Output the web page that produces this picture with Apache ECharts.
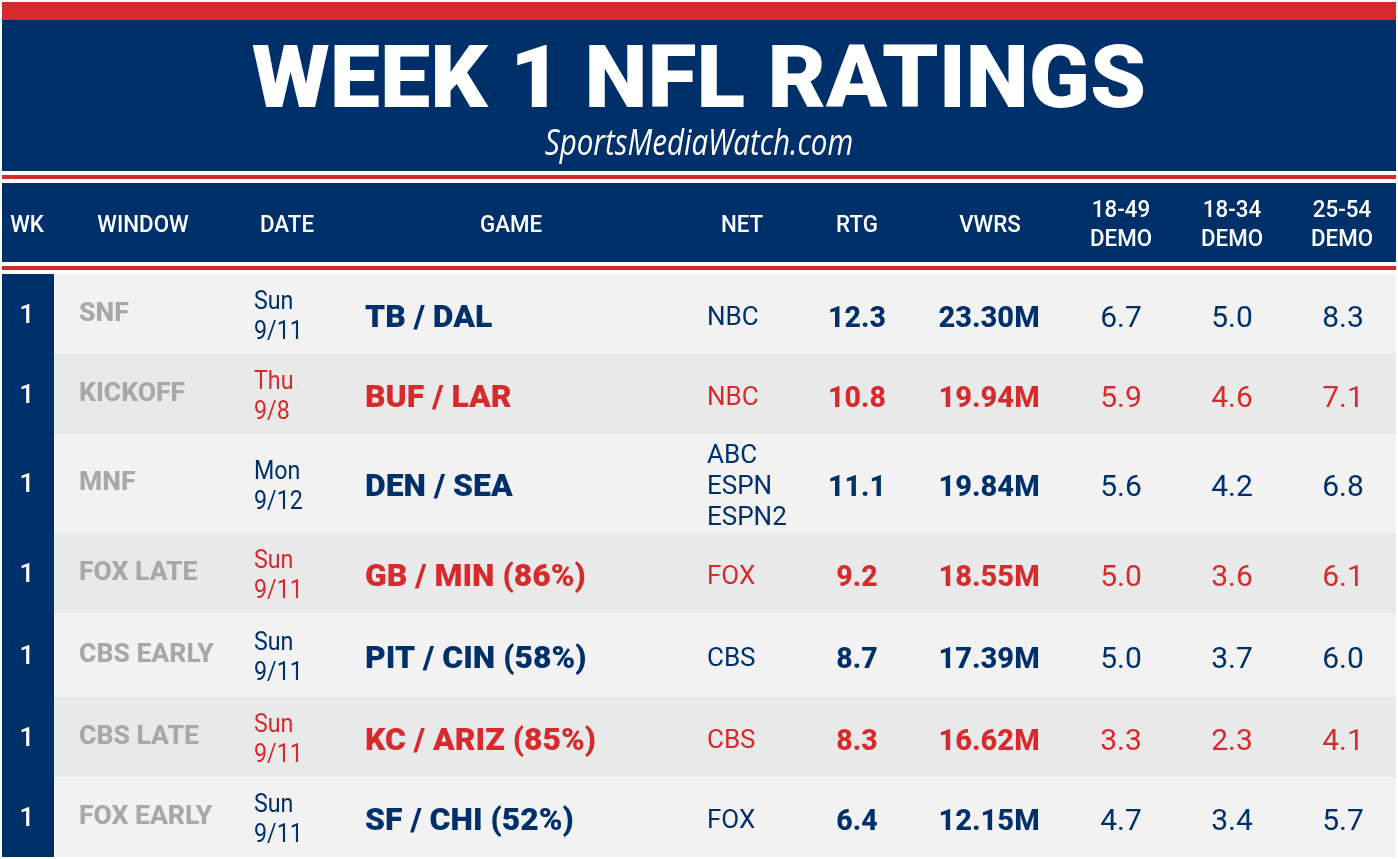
<!DOCTYPE html>
<html>
<head>
<meta charset="utf-8">
<title>Week 1 NFL Ratings</title>
<style>
  html, body { margin: 0; padding: 0; background: #fff; }
  #chart { width: 1398px; height: 859px; }
</style>
<script src="https://cdn.jsdelivr.net/npm/echarts@6/dist/echarts.min.js"></script>
</head>
<body>
<div id="chart"></div>
<script>
const title = "WEEK 1 NFL RATINGS"
const subtitle = "SportsMediaWatch.com"
const headers = ["WK", "WINDOW", "DATE", "GAME", "NET", "RTG", "VWRS", "18-49\nDEMO", "18-34\nDEMO", "25-54\nDEMO"]

const weeks = ["1", "1", "1", "1", "1", "1", "1"]
const windows = ["SNF", "KICKOFF", "MNF", "FOX LATE", "CBS EARLY", "CBS LATE", "FOX EARLY"]
const dates = ["Sun\n9/11", "Thu\n9/8", "Mon\n9/12", "Sun\n9/11", "Sun\n9/11", "Sun\n9/11", "Sun\n9/11"]
const games = ["TB / DAL", "BUF / LAR", "DEN / SEA", "GB / MIN (86%)", "PIT / CIN (58%)", "KC / ARIZ (85%)", "SF / CHI (52%)"]
const nets = ["NBC", "NBC", "ABC\nESPN\nESPN2", "FOX", "CBS", "CBS", "FOX"]
const ratings = ["12.3", "10.8", "11.1", "9.2", "8.7", "8.3", "6.4"]
const viewers = ["23.30M", "19.94M", "19.84M", "18.55M", "17.39M", "16.62M", "12.15M"]
const demo1849 = ["6.7", "5.9", "5.6", "5.0", "5.0", "3.3", "4.7"]
const demo1834 = ["5.0", "4.6", "4.2", "3.6", "3.7", "2.3", "3.4"]
const demo2554 = ["8.3", "7.1", "6.8", "6.1", "6.0", "4.1", "5.7"]

// table geometry, in page pixels
const rowEdges = [274, 354, 434, 533, 613, 697, 777, 857]
const NAVY = "#00306a"
const RED = "#d62b2d"
const GREY = "#a8a8a8"
const SANS = "Roboto, sans-serif"

const bands = [
  {x0: 2, x1: 1396, y0: 2, y1: 20, color: RED},
  {x0: 2, x1: 1396, y0: 20, y1: 171, color: NAVY},
  {x0: 2, x1: 1396, y0: 175, y1: 179, color: RED},
  {x0: 2, x1: 1396, y0: 183, y1: 262, color: NAVY},
  {x0: 2, x1: 1396, y0: 266, y1: 270, color: RED},
]
rowEdges.slice(0, -1).forEach((y0, i) => {
  bands.push({x0: 54, x1: 1396, y0, y1: rowEdges[i + 1], color: i % 2 ? "#e9e9e9" : "#f2f2f2"})
})
bands.push({x0: 2, x1: 54, y0: 274, y1: 857, color: NAVY})

const rowMid = i => (rowEdges[i] + rowEdges[i + 1]) / 2
const rowColor = i => (i % 2 ? RED : NAVY)

// one text column: values plus where and how they are set
function textSeries(name, texts, at, style) {
  return {
    name,
    type: "custom",
    coordinateSystem: "cartesian2d",
    silent: true,
    animation: false,
    data: texts.map((t, i) => at(i)),
    renderItem(params, api) {
      const i = params.dataIndex
      const p = api.coord([api.value(0), api.value(1)])
      const lines = texts[i].split("\n")
      const lh = style.lineHeight || 30
      const fill = typeof style.fill === "function" ? style.fill(i) : style.fill
      return {
        type: "group",
        children: lines.map((line, k) => ({
          type: "text",
          x: p[0],
          y: p[1] + (k - (lines.length - 1) / 2) * lh,
          scaleX: style.scaleX || 1,
          style: {
            text: line,
            font: style.font,
            fill,
            align: style.align || "center",
            verticalAlign: "middle",
          },
        })),
      }
    },
  }
}

const bandSeries = {
  name: "bands",
  type: "custom",
  coordinateSystem: "cartesian2d",
  silent: true,
  animation: false,
  data: bands.map(b => [b.x0, b.y0, b.x1, b.y1]),
  renderItem(params, api) {
    const a = api.coord([api.value(0), api.value(1)])
    const b = api.coord([api.value(2), api.value(3)])
    return {
      type: "rect",
      shape: {x: a[0], y: a[1], width: b[0] - a[0], height: b[1] - a[1]},
      style: {fill: bands[params.dataIndex].color},
    }
  },
}

const headerX = [27, 143, 287, 511, 742, 857, 990, 1121, 1232, 1342]
const numberColumns = [
  {name: "RTG", texts: ratings, x: 857, font: `800 30px ${SANS}`, scaleX: 0.95},
  {name: "VWRS", texts: viewers, x: 989, font: `800 30px ${SANS}`, scaleX: 0.97},
  {name: "18-49", texts: demo1849, x: 1121, font: `400 30px ${SANS}`},
  {name: "18-34", texts: demo1834, x: 1232, font: `400 30px ${SANS}`},
  {name: "25-54", texts: demo2554, x: 1343, font: `400 30px ${SANS}`},
]

const series = [
  bandSeries,
  textSeries("title", [title], () => [699, 85], {font: `900 88px ${SANS}`, fill: "#fff", scaleX: 1.02}),
  textSeries("subtitle", [subtitle], () => [699, 145], {font: `italic 400 36px "Open Sans", sans-serif`, fill: "#fff", scaleX: 0.82}),
  textSeries("headers", headers, i => [headerX[i], 226], {font: `500 23px ${SANS}`, fill: "#fff", lineHeight: 29, scaleX: 0.97}),
  textSeries("wk", weeks, i => [27, rowMid(i) + 2], {font: `500 26px ${SANS}`, fill: "#fff"}),
  textSeries("window", windows, i => [79, rowMid(i)], {font: `800 26px ${SANS}`, fill: GREY, align: "left", scaleX: 1.02}),
  textSeries("date", dates, i => [254, rowMid(i) + 4], {font: `400 25px ${SANS}`, fill: rowColor, align: "left", lineHeight: 30, scaleX: 0.93}),
  textSeries("game", games, i => [365, rowMid(i) + 5], {font: `900 31px ${SANS}`, fill: rowColor, align: "left", scaleX: 1.03}),
  textSeries("net", nets, i => [707, rowMid(i) + 4], {font: `400 26px ${SANS}`, fill: rowColor, align: "left", lineHeight: 31, scaleX: 1}),
  ...numberColumns.map(c => textSeries(c.name, c.texts, i => [c.x, rowMid(i) + 5], {font: c.font, fill: rowColor, scaleX: c.scaleX})),
]

const chart = echarts.init(document.getElementById("chart"))
chart.setOption({
  animation: false,
  backgroundColor: "#fff",
  grid: {left: 0, right: 0, top: 0, bottom: 0},
  xAxis: {type: "value", min: 0, max: 1398, show: false},
  yAxis: {type: "value", min: 0, max: 859, inverse: true, show: false},
  series,
})
</script>
</body>
</html>
